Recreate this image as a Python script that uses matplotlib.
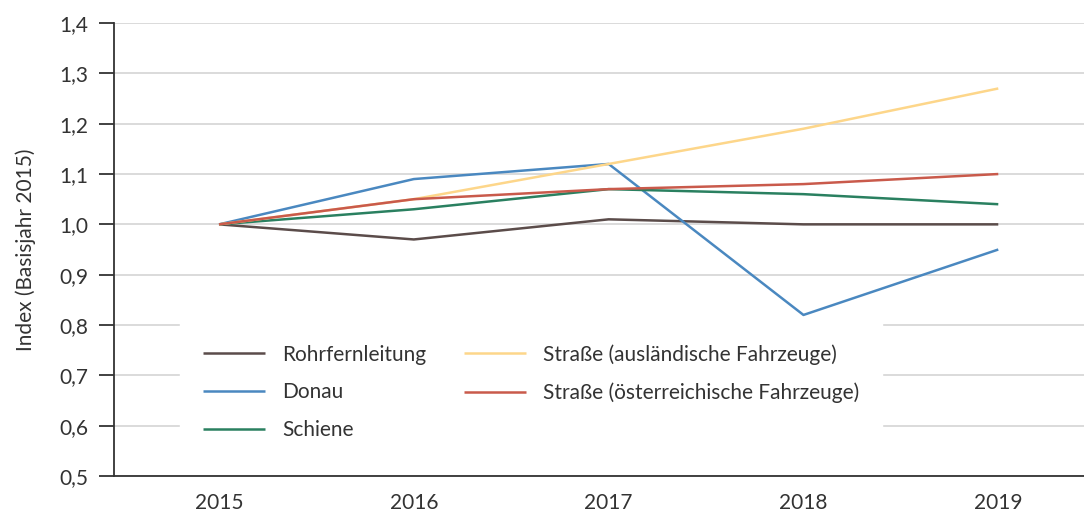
import matplotlib

matplotlib.use("Agg")
import matplotlib.pyplot as plt
from matplotlib.ticker import FuncFormatter

# data
years = ["2015", "2016", "2017", "2018", "2019"]
rohrfernleitung = [1.00, 0.97, 1.01, 1.00, 1.00]
donau = [1.00, 1.09, 1.12, 0.82, 0.95]
schiene = [1.00, 1.03, 1.07, 1.06, 1.04]
strasse_ausl = [1.00, 1.05, 1.12, 1.19, 1.27]
strasse_oest = [1.00, 1.05, 1.07, 1.08, 1.10]

series = [
    ("Rohrfernleitung", rohrfernleitung, "#5b4c4a"),
    ("Donau", donau, "#4a88c0"),
    ("Schiene", schiene, "#2a8060"),
    ("Straße (ausländische Fahrzeuge)", strasse_ausl, "#fdd68a"),
    ("Straße (österreichische Fahrzeuge)", strasse_oest, "#c95a4b"),
]

plt.rcParams["font.family"] = ["Lato", "DejaVu Sans"]
text_col = "#333333"
fs = 15

fig = plt.figure(figsize=(10.84, 5.12), dpi=100)
ax = fig.add_axes([0.105, 0.0703, 0.895, 0.8847])

x = range(len(years))
for name, vals, col in series:
    ax.plot(x, vals, color=col, lw=1.8, label=name, solid_capstyle="butt")

ax.set_xlim(-0.54, 4.44)
ax.set_ylim(0.5, 1.4)
ax.set_yticks([0.5 + 0.1 * i for i in range(10)])
ax.yaxis.set_major_formatter(FuncFormatter(lambda v, _: f"{v:.1f}".replace(".", ",")))
ax.set_xticks(list(x))
ax.set_xticklabels(years)

ax.grid(axis="y", color="#d4d4d4", lw=1.2)
ax.set_axisbelow(True)
for s in ("top", "right"):
    ax.spines[s].set_visible(False)
for s in ("left", "bottom"):
    ax.spines[s].set_color(text_col)
    ax.spines[s].set_linewidth(1.3)

ax.tick_params(axis="y", length=10.5, width=1.3, color=text_col, labelsize=fs,
               labelcolor=text_col, pad=8)
ax.tick_params(axis="x", length=0, labelsize=fs, labelcolor=text_col, pad=12)
ax.set_ylabel("Index (Basisjahr 2015)", fontsize=fs, color=text_col, labelpad=17)

leg = ax.legend(ncol=2, loc="upper left", bbox_to_anchor=(0.068, 0.342),
                borderaxespad=0, frameon=True, fancybox=False, framealpha=1,
                edgecolor="white", facecolor="white", fontsize=fs,
                handlelength=3.0, handletextpad=0.8, labelspacing=0.85,
                borderpad=1.1, columnspacing=1.8)
for t in leg.get_texts():
    t.set_color(text_col)

fig.savefig("out.png", dpi=100)
